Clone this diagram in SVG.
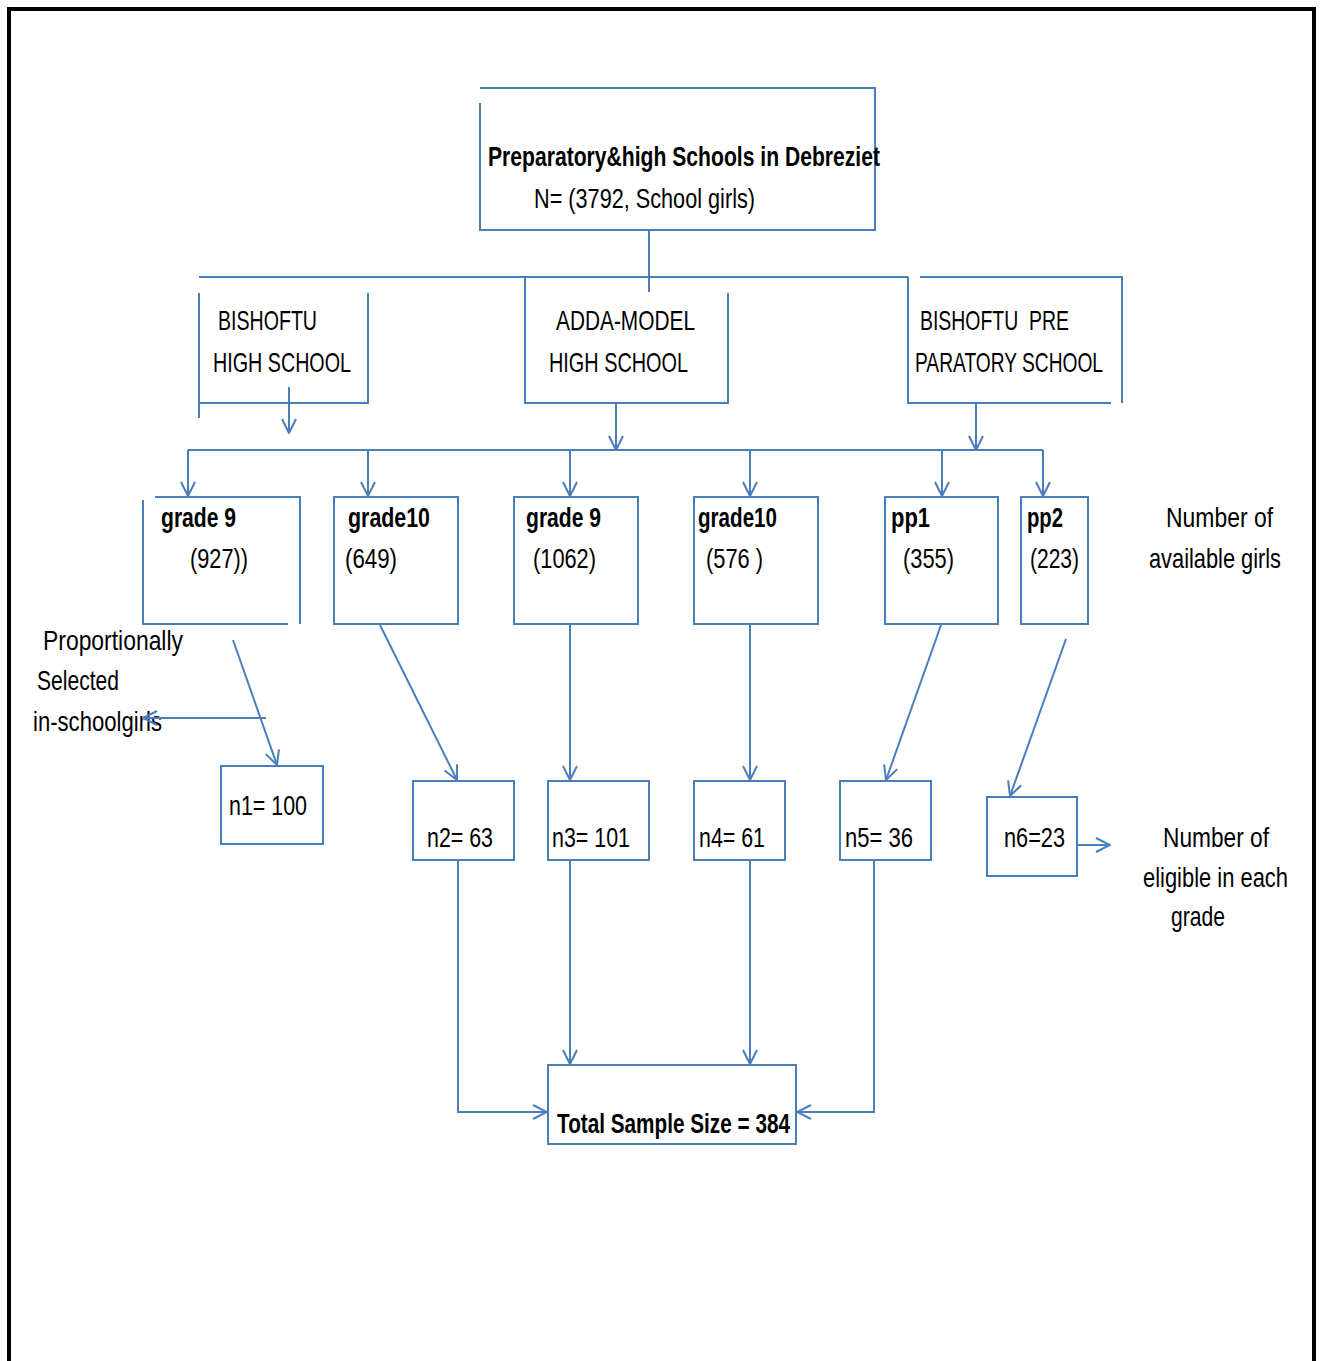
<svg xmlns="http://www.w3.org/2000/svg" width="1322" height="1361" viewBox="0 0 1322 1361">
<defs>
<style>
.ln{fill:none;stroke:#4A7EBB;stroke-width:2}
.bx{fill:none;stroke:#4A7EBB;stroke-width:2}
.t{font-family:"Liberation Sans Narrow","Liberation Sans",Arial,sans-serif;font-size:28px;fill:#000;white-space:pre}
.b{font-weight:bold}
.ar{marker-end:url(#arr)}
</style>
<marker id="arr" viewBox="0 0 16 16" refX="15" refY="8" markerWidth="16" markerHeight="16" markerUnits="userSpaceOnUse" orient="auto">
<path d="M1,1 L15,8 L1,15" fill="none" stroke="#4A7EBB" stroke-width="2"/>
</marker>
</defs>
<rect width="1322" height="1361" fill="#fff"/>
<path d="M9,1361 V9 H1314 V1361" fill="none" stroke="#000" stroke-width="4"/>

<g id="top">
<path class="bx" d="M480,103 V230 H875 V88 H480"/>
<text class="t b" x="488" y="166" textLength="392" lengthAdjust="spacingAndGlyphs">Preparatory&amp;high Schools in Debreziet</text>
<text class="t" x="534" y="208" textLength="221" lengthAdjust="spacingAndGlyphs">N= (3792, School girls)</text>
</g>

<g id="school1">
<path class="bx" d="M199,293 V418 M199,403 H368 V293"/>
<text class="t" x="218" y="330" textLength="99" lengthAdjust="spacingAndGlyphs">BISHOFTU</text>
<text class="t" x="213" y="372" textLength="138" lengthAdjust="spacingAndGlyphs">HIGH SCHOOL</text>
</g>
<g id="school2">
<path class="bx" d="M525,277 V403 H728 V293"/>
<text class="t" x="556" y="330" textLength="139" lengthAdjust="spacingAndGlyphs">ADDA-MODEL</text>
<text class="t" x="549" y="372" textLength="139" lengthAdjust="spacingAndGlyphs">HIGH SCHOOL</text>
</g>
<g id="school3">
<path class="bx" d="M908,277 V403 H1111 M920,277 H1122 V403"/>
<text class="t" x="920" y="330" textLength="149" lengthAdjust="spacingAndGlyphs">BISHOFTU  PRE</text>
<text class="t" x="915" y="372" textLength="188" lengthAdjust="spacingAndGlyphs">PARATORY SCHOOL</text>
</g>

<g id="g1">
<path class="bx" d="M143,500 V624 H288 M155,497 H300 V624"/>
<text class="t b" x="161" y="527" textLength="75" lengthAdjust="spacingAndGlyphs">grade 9</text>
<text class="t" x="190" y="568" textLength="58" lengthAdjust="spacingAndGlyphs">(927))</text>
</g>
<g id="g2">
<rect class="bx" x="334" y="497" width="124" height="127"/>
<text class="t b" x="348" y="527" textLength="82" lengthAdjust="spacingAndGlyphs">grade10</text>
<text class="t" x="345" y="568" textLength="52" lengthAdjust="spacingAndGlyphs">(649)</text>
</g>
<g id="g3">
<rect class="bx" x="514" y="497" width="124" height="127"/>
<text class="t b" x="526" y="527" textLength="75" lengthAdjust="spacingAndGlyphs">grade 9</text>
<text class="t" x="533" y="568" textLength="63" lengthAdjust="spacingAndGlyphs">(1062)</text>
</g>
<g id="g4">
<rect class="bx" x="694" y="497" width="124" height="127"/>
<text class="t b" x="698" y="527" textLength="79" lengthAdjust="spacingAndGlyphs">grade10</text>
<text class="t" x="706" y="568" textLength="57" lengthAdjust="spacingAndGlyphs">(576 )</text>
</g>
<g id="g5">
<rect class="bx" x="885" y="497" width="113" height="127"/>
<text class="t b" x="891" y="527" textLength="39" lengthAdjust="spacingAndGlyphs">pp1</text>
<text class="t" x="903" y="568" textLength="51" lengthAdjust="spacingAndGlyphs">(355)</text>
</g>
<g id="g6">
<rect class="bx" x="1021" y="497" width="67" height="127"/>
<text class="t b" x="1027" y="527" textLength="36" lengthAdjust="spacingAndGlyphs">pp2</text>
<text class="t" x="1030" y="568" textLength="49" lengthAdjust="spacingAndGlyphs">(223)</text>
</g>

<g id="label-available">
<text class="t" x="1166" y="527" textLength="107" lengthAdjust="spacingAndGlyphs">Number of</text>
<text class="t" x="1149" y="568" textLength="132" lengthAdjust="spacingAndGlyphs">available girls</text>
</g>
<g id="label-proportional">
<text class="t" x="43" y="650" textLength="140" lengthAdjust="spacingAndGlyphs">Proportionally</text>
<text class="t" x="37" y="690" textLength="82" lengthAdjust="spacingAndGlyphs">Selected</text>
<text class="t" x="33" y="731" textLength="129" lengthAdjust="spacingAndGlyphs">in-schoolgirls</text>
</g>

<g id="n1">
<rect class="bx" x="221" y="766" width="102" height="78"/>
<text class="t" x="229" y="815" textLength="78" lengthAdjust="spacingAndGlyphs">n1= 100</text>
</g>
<g id="n2">
<rect class="bx" x="413" y="781" width="101" height="79"/>
<text class="t" x="427" y="847" textLength="66" lengthAdjust="spacingAndGlyphs">n2= 63</text>
</g>
<g id="n3">
<rect class="bx" x="548" y="781" width="101" height="79"/>
<text class="t" x="552" y="847" textLength="78" lengthAdjust="spacingAndGlyphs">n3= 101</text>
</g>
<g id="n4">
<rect class="bx" x="694" y="781" width="91" height="79"/>
<text class="t" x="699" y="847" textLength="66" lengthAdjust="spacingAndGlyphs">n4= 61</text>
</g>
<g id="n5">
<rect class="bx" x="840" y="781" width="91" height="79"/>
<text class="t" x="845" y="847" textLength="68" lengthAdjust="spacingAndGlyphs">n5= 36</text>
</g>
<g id="n6">
<rect class="bx" x="987" y="797" width="90" height="79"/>
<text class="t" x="1004" y="847" textLength="61" lengthAdjust="spacingAndGlyphs">n6=23</text>
</g>
<g id="label-eligible">
<text class="t" x="1163" y="847" textLength="106" lengthAdjust="spacingAndGlyphs">Number of</text>
<text class="t" x="1143" y="887" textLength="145" lengthAdjust="spacingAndGlyphs">eligible in each</text>
<text class="t" x="1171" y="926" textLength="54" lengthAdjust="spacingAndGlyphs">grade</text>
</g>

<g id="total">
<rect class="bx" x="548" y="1065" width="248" height="79"/>
<text class="t b" x="557" y="1133" textLength="233" lengthAdjust="spacingAndGlyphs">Total Sample Size = 384</text>
</g>

<g id="connectors">
<path class="ln" d="M649,230 V292"/>
<path class="ln" d="M199,277 H908"/>
<path class="ln ar" d="M289,387 V433"/>
<path class="ln ar" d="M616,403 V450"/>
<path class="ln ar" d="M976,403 V450"/>
<path class="ln" d="M188,450 H1043"/>
<path class="ln ar" d="M188,450 V496"/>
<path class="ln ar" d="M368,450 V496"/>
<path class="ln ar" d="M570,450 V496"/>
<path class="ln ar" d="M750,450 V496"/>
<path class="ln ar" d="M942,450 V496"/>
<path class="ln ar" d="M1043,450 V496"/>
<path class="ln ar" d="M233,640 L277,765"/>
<path class="ln ar" d="M266,718 H143"/>
<path class="ln ar" d="M380,625 L457,780"/>
<path class="ln ar" d="M570,624 V780"/>
<path class="ln ar" d="M750,624 V780"/>
<path class="ln ar" d="M941,625 L886,780"/>
<path class="ln ar" d="M1066,639 L1010,796"/>
<path class="ln ar" d="M1077,845 H1110"/>
<path class="ln ar" d="M458,860 V1112 H547"/>
<path class="ln ar" d="M570,860 V1064"/>
<path class="ln ar" d="M750,860 V1064"/>
<path class="ln ar" d="M874,860 V1112 H797"/>
</g>
</svg>
